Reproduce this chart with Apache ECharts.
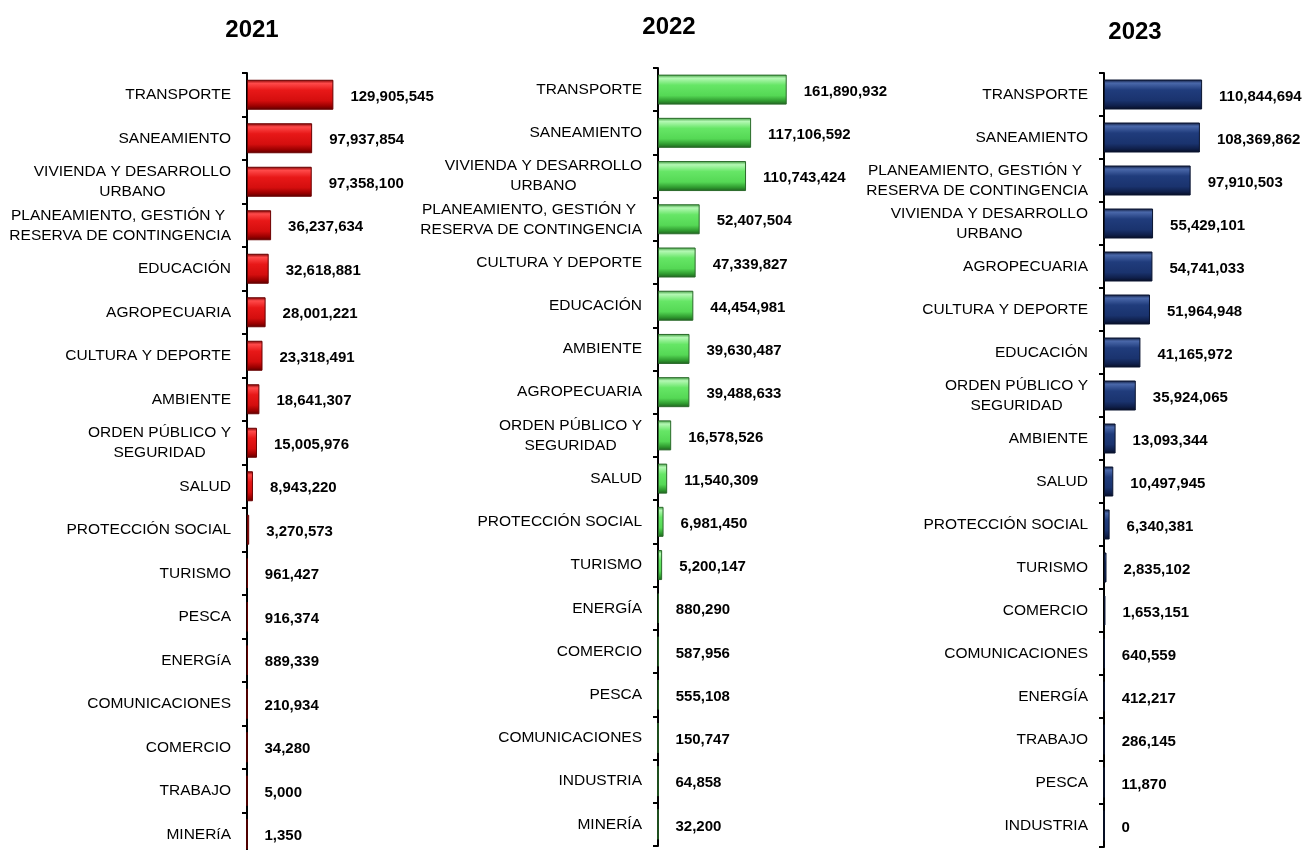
<!DOCTYPE html>
<html>
<head>
<meta charset="utf-8">
<script src="https://cdn.jsdelivr.net/npm/echarts@6/dist/echarts.min.js"></script>
<style>
  html, body { margin: 0; padding: 0; background: #fff; }
  #chart { width: 1305px; height: 850px; }
</style>
</head>
<body>
<div id="chart"></div>
<script>
// datos por año (orden de arriba hacia abajo)
const years = ['2021', '2022', '2023'];

const cats2021 = ['TRANSPORTE', 'SANEAMIENTO', 'VIVIENDA Y DESARROLLO\nURBANO',
  'PLANEAMIENTO, GESTIÓN Y \nRESERVA DE CONTINGENCIA', 'EDUCACIÓN', 'AGROPECUARIA',
  'CULTURA Y DEPORTE', 'AMBIENTE', 'ORDEN PÚBLICO Y\nSEGURIDAD', 'SALUD', 'PROTECCIÓN SOCIAL',
  'TURISMO', 'PESCA', 'ENERGíA', 'COMUNICACIONES', 'COMERCIO', 'TRABAJO', 'MINERíA'];
const vals2021 = [129905545, 97937854, 97358100, 36237634, 32618881, 28001221, 23318491,
  18641307, 15005976, 8943220, 3270573, 961427, 916374, 889339, 210934, 34280, 5000, 1350];

const cats2022 = ['TRANSPORTE', 'SANEAMIENTO', 'VIVIENDA Y DESARROLLO\nURBANO',
  'PLANEAMIENTO, GESTIÓN Y \nRESERVA DE CONTINGENCIA', 'CULTURA Y DEPORTE', 'EDUCACIÓN',
  'AMBIENTE', 'AGROPECUARIA', 'ORDEN PÚBLICO Y\nSEGURIDAD', 'SALUD', 'PROTECCIÓN SOCIAL',
  'TURISMO', 'ENERGÍA', 'COMERCIO', 'PESCA', 'COMUNICACIONES', 'INDUSTRIA', 'MINERÍA'];
const vals2022 = [161890932, 117106592, 110743424, 52407504, 47339827, 44454981, 39630487,
  39488633, 16578526, 11540309, 6981450, 5200147, 880290, 587956, 555108, 150747, 64858, 32200];

const cats2023 = ['TRANSPORTE', 'SANEAMIENTO', 'PLANEAMIENTO, GESTIÓN Y \nRESERVA DE CONTINGENCIA',
  'VIVIENDA Y DESARROLLO\nURBANO', 'AGROPECUARIA', 'CULTURA Y DEPORTE', 'EDUCACIÓN',
  'ORDEN PÚBLICO Y\nSEGURIDAD', 'AMBIENTE', 'SALUD', 'PROTECCIÓN SOCIAL', 'TURISMO', 'COMERCIO',
  'COMUNICACIONES', 'ENERGÍA', 'TRABAJO', 'PESCA', 'INDUSTRIA'];
const vals2023 = [110844694, 108369862, 97910503, 55429101, 54741033, 51964948, 41165972,
  35924065, 13093344, 10497945, 6340381, 2835102, 1653151, 640559, 412217, 286145, 11870, 0];

const FONT = '"Liberation Sans", Arial, sans-serif';

// gradientes tipo bisel
const bevel = {
  '2021': { stops: ['#7a0000', '#ff4a4a', '#e81818', '#d40e0e', '#9a0000', '#5a0000'], border: '#6a0000' },
  '2022': { stops: ['#3c9a3c', '#b4f8b4', '#66e666', '#55d855', '#2f9a2f', '#1f5f1f'], border: '#2a6a2a' },
  '2023': { stops: ['#0a1432', '#4a68aa', '#203c7c', '#1a336e', '#0f1f4a', '#060c22'], border: '#0a1430' }
};

// posiciones de cada panel
const panels = [
  { year: '2021', cats: cats2021, vals: vals2021, axisX: 247, top: 73, height: 783, width: 133, titleX: 252, titleTop: 18 },
  { year: '2022', cats: cats2022, vals: vals2022, axisX: 658, top: 68, height: 778, width: 159, titleX: 669, titleTop: 15 },
  { year: '2023', cats: cats2023, vals: vals2023, axisX: 1104, top: 73, height: 774, width: 177, titleX: 1135, titleTop: 20 }
];

const fmt = v => Number(v).toLocaleString('en-US');

const option = {
  backgroundColor: '#fff',
  animation: false,
  title: [],
  grid: [],
  xAxis: [],
  yAxis: [],
  series: []
};

panels.forEach((p, i) => {
  const b = bevel[p.year];
  option.title.push({
    text: p.year,
    left: p.titleX,
    top: p.titleTop,
    padding: 0,
    textAlign: 'center',
    textStyle: { fontFamily: FONT, fontSize: 24, fontWeight: 'bold', color: '#000' }
  });
  option.grid.push({
    left: p.axisX, top: p.top, width: p.width, height: p.height,
    containLabel: false, outerBoundsMode: 'none'
  });
  option.xAxis.push({
    gridIndex: i, type: 'value', min: 0, max: 200000000, show: false
  });
  option.yAxis.push({
    gridIndex: i,
    type: 'category',
    inverse: true,
    data: p.cats,
    axisLine: { show: true, lineStyle: { color: '#000', width: 2 } },
    axisTick: { show: true, length: 5, lineStyle: { color: '#000', width: 2 } },
    axisLabel: {
      interval: 0,
      margin: 16,
      formatter: v => v.split('\n').map(s => '{c|' + s + '}').join('\n'),
      rich: {
        c: { fontFamily: FONT, fontSize: 15.5, lineHeight: 20, color: '#000', align: 'center' }
      }
    },
    splitLine: { show: false }
  });
  option.series.push({
    type: 'bar',
    xAxisIndex: i,
    yAxisIndex: i,
    data: p.vals,
    barWidth: 30,
    itemStyle: {
      borderColor: b.border,
      borderWidth: 1,
      color: {
        type: 'linear', x: 0, y: 0, x2: 0, y2: 1,
        colorStops: [
          { offset: 0, color: b.stops[0] },
          { offset: 0.12, color: b.stops[1] },
          { offset: 0.35, color: b.stops[2] },
          { offset: 0.7, color: b.stops[3] },
          { offset: 0.88, color: b.stops[4] },
          { offset: 1, color: b.stops[5] }
        ]
      }
    },
    label: {
      show: true,
      position: 'right',
      distance: 17,
      offset: [0, 2],
      formatter: d => fmt(d.value),
      fontFamily: FONT,
      fontSize: 15,
      fontWeight: 'bold',
      color: '#000'
    }
  });
});

const chart = echarts.init(document.getElementById('chart'));
chart.setOption(option);
</script>
</body>
</html>
